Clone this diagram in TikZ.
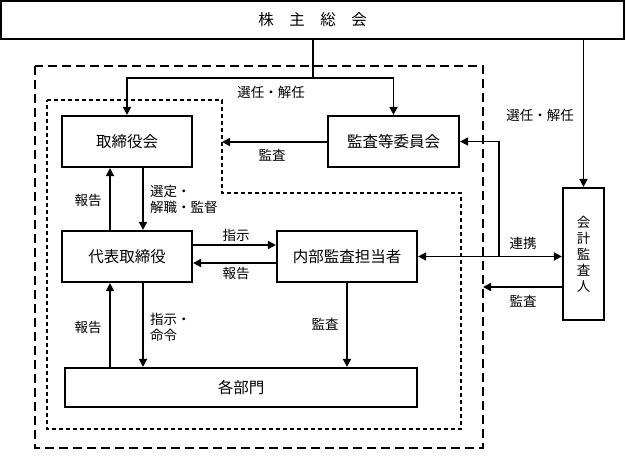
\documentclass[tikz,border=0pt]{standalone}
\usepackage{fontspec}
\setmainfont{Noto Sans CJK JP}
\usetikzlibrary{arrows.meta}

\begin{document}
\begin{tikzpicture}[x=1pt,y=-1pt]
	\tikzstyle{boite}=[draw, line width=2.2pt, inner sep=0pt, font=\fontsize{15.5}{18}\selectfont]
	\tikzstyle{fleche}=[line width=1.7pt, -{Triangle[length=8pt,width=8pt]}]
	\tikzstyle{fleche_double}=[line width=1.7pt, {Triangle[length=8pt,width=8pt]}-{Triangle[length=8pt,width=8pt]}]
	\tikzstyle{lien}=[line width=1.7pt]
	\tikzstyle{etiquette}=[inner sep=0pt, font=\fontsize{13.5}{16}\selectfont]
	\useasboundingbox (0,0) rectangle (626,455);
	% cadres en pointilles
	\draw[line width=2.2pt, dash pattern=on 9pt off 5pt] (35,66) rectangle (483,448);
	\draw[line width=1.4pt, dash pattern=on 4pt off 3pt] (47,100) -- (222,100) -- (222,193) -- (461,193) -- (461,429) -- (47,429) -- cycle;
	% boites
	\node[boite, minimum width=623pt, minimum height=38pt] (soukai) at (312.5,20) {株\quad 主\quad 総\quad 会};
	\node[boite, minimum width=130pt, minimum height=51pt] (torikai) at (127,141.5) {取締役会};
	\node[boite, minimum width=131pt, minimum height=51pt] (kansa) at (393.5,141.5) {監査等委員会};
	\node[boite, minimum width=130pt, minimum height=51pt] (daihyo) at (127,256.5) {代表取締役};
	\node[boite, minimum width=140pt, minimum height=51pt] (naibu) at (347,256.5) {内部監査担当者};
	\node[boite, minimum width=352pt, minimum height=39pt] (bumon) at (241,387.5) {各部門};
	\node[boite, minimum width=41pt, minimum height=132pt, font=\fontsize{13.5}{16}\selectfont, align=center] (kaikei) at (583.5,254) {会\\計\\監\\査\\人};
	% points de passage
	\coordinate (fourche) at (313,78);
	\coordinate (bord_interieur) at (222,142);
	\coordinate (jonction) at (499,256.5);
	\coordinate (bord_exterieur) at (483,287);
	% fleches
	\draw[lien] (soukai.south -| fourche) -- (fourche);
	\draw[fleche] (fourche) -| (torikai.north);
	\draw[fleche] (fourche) -| (kansa.north);
	\draw[fleche] (soukai.south -| kaikei.north) -- (kaikei.north);
	\draw[fleche] (kansa.west |- bord_interieur) -- (bord_interieur);
	\draw[fleche] ([xshift=-17pt]daihyo.north) -- ([xshift=-17pt]torikai.south);
	\draw[fleche] ([xshift=16pt]torikai.south) -- ([xshift=16pt]daihyo.north);
	\draw[fleche] ([yshift=11.5pt]daihyo.east) -- ([yshift=11.5pt]naibu.west);
	\draw[fleche] ([yshift=-6.5pt]naibu.west) -- ([yshift=-6.5pt]daihyo.east);
	\draw[fleche_double] (naibu.east) -- (naibu.east -| kaikei.west);
	\draw[fleche] (jonction) |- (kansa.east);
	\draw[fleche] (kaikei.west |- bord_exterieur) -- (bord_exterieur);
	\draw[fleche] ([xshift=-131pt]bumon.north) -- ([xshift=-17pt]daihyo.south);
	\draw[fleche] ([xshift=16pt]daihyo.south) -- ([xshift=-98pt]bumon.north);
	\draw[fleche] (naibu.south) -- (naibu.south |- bumon.north);
	% etiquettes
	\node[etiquette] (l_senin) at (271,92) {選任・解任};
	\node[etiquette] (l_senin_k) at (540,115) {選任・解任};
	\node[etiquette] (l_kansa) at (272,155) {監査};
	\node[etiquette] (l_hokoku) at (88,200) {報告};
	\node[etiquette, anchor=west, align=left] (l_sentei) at (150,199) {選定・\\解職・監督};
	\node[etiquette] (l_shiji) at (236,235) {指示};
	\node[etiquette] (l_hokoku_n) at (236,273) {報告};
	\node[etiquette] (l_hokoku_b) at (88,327) {報告};
	\node[etiquette, anchor=west, align=left] (l_meirei) at (150,327) {指示・\\命令};
	\node[etiquette] (l_kansa_b) at (325,324) {監査};
	\node[etiquette] (l_renkei) at (523,243) {連携};
	\node[etiquette] (l_kansa_k) at (523,301) {監査};
\end{tikzpicture}
\end{document}
